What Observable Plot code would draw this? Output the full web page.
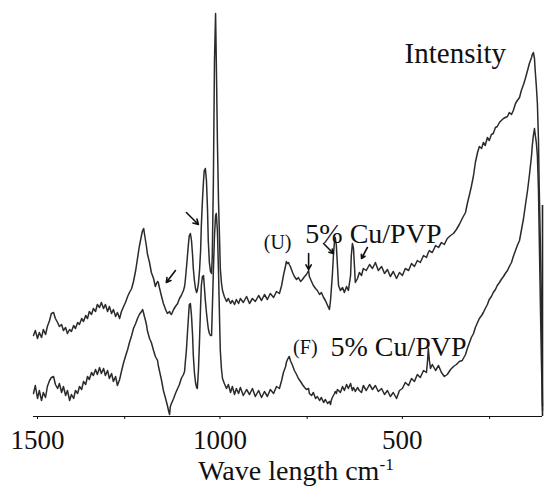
<!DOCTYPE html>
<html>
<head>
<meta charset="utf-8">
<script src="https://cdn.jsdelivr.net/npm/d3@7"></script>
<script src="https://cdn.jsdelivr.net/npm/@observablehq/plot@0.6"></script>
<style>
  body { margin: 0; background: #fff; }
  #chart svg { display: block; font-family: "Liberation Serif", "Times New Roman", serif; }
  #xlabel { font-family: "Liberation Serif", "Times New Roman", serif; font-size: 28px; height: 30px; line-height: 22px; text-align: center; padding-left: 48px; width: 496px; color: #111; overflow: visible; }
  #xlabel span { position: relative; top: -0.55em; font-size: 0.62em; }
</style>
</head>
<body>
<div id="chart"></div>
<div id="xlabel">Wave length cm<span>-1</span></div>
<script>
// Wavenumber grid (cm-1), shared by both spectra
const wave = [
  1500,1495,1489,1484,1478,1473,1467,1462,1456,1451,
  1445,1440,1434,1429,1423,1418,1412,1407,1401,1396,
  1390,1385,1379,1374,1368,1363,1357,1352,1347,1341,
  1336,1330,1325,1319,1314,1308,1303,1297,1292,1286,
  1281,1275,1270,1264,1259,1253,1248,1242,1237,1231,
  1226,1220,1215,1210,1204,1201,1198,1196,1193,1190,
  1188,1182,1177,1171,1166,1163,1160,1158,1155,1149,
  1144,1138,1133,1130,1127,1125,1122,1116,1111,1105,
  1100,1095,1089,1086,1084,1081,1078,1075,1073,1070,
  1067,1064,1062,1059,1056,1053,1051,1048,1045,1042,
  1040,1037,1034,1032,1029,1026,1023,1021,1018,1015,
  1012,1010,1007,1004,1001,999,996,993,990,988,
  985,982,977,971,966,960,955,949,944,938,
  933,925,916,908,900,892,883,875,867,859,
  851,842,834,826,820,815,809,807,804,801,
  799,796,790,785,779,774,768,763,757,752,
  746,744,738,733,727,722,716,711,705,700,
  694,689,686,684,681,678,675,673,670,667,
  664,659,653,648,642,637,631,629,626,623,
  620,618,612,607,601,596,588,579,571,563,
  555,546,538,530,522,514,505,497,489,481,
  472,464,456,448,440,431,423,420,418,415,
  412,407,398,390,382,374,366,357,349,341,
  333,325,316,311,305,300,294,289,283,278,
  272,267,262,256,251,245,240,234,229,223,
  218,212,207,201,196,190,185,179,174,168,
  163,157,152,146,141,135,133,130,127,125,
  122,119,116,114,111,108,105
];
// (U) 5% Cu/PVP – upper spectrum intensity (arb. units)
const upper = [
  81,86,78,84,79,87,82,90,96,103,
  104,98,94,90,92,86,89,83,87,85,
  91,88,94,92,98,95,101,98,105,102,
  108,105,112,109,114,108,112,105,110,103,
  107,100,104,98,105,110,114,120,124,128,
  135,146,158,170,181,186,188,183,176,169,
  163,154,144,138,130,133,135,134,129,120,
  113,107,103,104,105,103,102,107,110,113,
  118,121,126,130,136,148,161,174,181,183,
  176,161,148,136,128,124,126,133,146,166,
  191,216,236,246,248,236,206,176,154,145,
  143,161,236,356,403,356,276,216,176,148,
  134,126,120,115,118,113,116,112,117,113,
  118,114,120,113,118,115,121,116,122,117,
  123,119,125,123,131,141,151,155,153,154,
  152,150,144,140,137,139,135,137,140,142,
  146,140,135,131,128,126,122,124,119,116,
  111,107,116,126,141,161,176,179,171,151,
  131,126,129,124,130,126,141,161,173,168,
  148,134,138,144,141,148,146,152,148,154,
  146,150,143,147,140,145,138,144,141,148,
  146,153,150,156,154,161,159,162,164,166,
  165,164,171,169,174,172,178,181,183,187,
  192,198,204,213,222,230,241,254,264,270,
  268,274,271,279,276,282,283,289,290,294,
  296,298,299,300,304,302,306,313,316,319,
  326,332,338,346,353,359,362,364,358,346,
  331,313,276,229,176,116,11
];
// (F) 5% Cu/PVP – lower spectrum intensity (arb. units)
const lower = [
  23,31,18,26,16,24,19,30,36,39,
  40,32,28,33,24,30,21,26,16,22,
  18,26,23,30,27,35,32,40,37,44,
  41,47,42,49,43,48,41,46,38,43,
  35,40,31,37,45,54,60,67,74,81,
  88,93,98,102,105,107,103,100,96,91,
  86,78,74,66,60,58,56,51,46,36,
  26,18,11,6,2,10,13,18,23,28,
  32,38,42,45,54,66,84,101,112,113,
  101,81,61,44,34,29,28,46,76,111,
  131,140,141,131,116,104,94,88,83,81,
  81,106,146,181,201,203,186,146,96,66,
  48,38,33,28,32,24,30,22,28,23,
  29,21,27,22,28,20,26,19,25,20,
  27,23,30,28,36,44,50,54,57,59,
  60,56,51,46,42,38,35,32,29,27,
  28,23,21,24,18,20,16,19,14,17,
  13,15,12,16,19,21,23,25,23,27,
  26,24,30,26,32,28,33,30,26,29,
  27,25,29,26,24,31,26,32,27,31,
  25,28,22,26,20,24,18,26,28,34,
  31,38,35,42,39,46,44,56,68,56,
  48,52,46,51,44,40,42,47,50,52,
  55,56,62,68,74,79,83,89,94,98,
  101,104,108,112,117,120,124,127,131,134,
  137,140,143,146,150,154,160,166,171,176,
  186,198,211,226,241,261,271,281,288,282,
  274,261,226,181,116,56,6
];
const majorTicks = [1500, 1000, 500];
const minorTicks = [1250, 750, 250];

// annotations (wavenumber, intensity)
const labels = [
  {text: "Intensity", w: 344, v: 363, size: 29, anchor: "middle"},
  {text: "(U)", w: 831, v: 174, size: 20, anchor: "middle"},
  {text: "5% Cu/PVP", w: 755, v: 182, size: 28, anchor: "start"},
  {text: "(F)", w: 755, v: 69, size: 20, anchor: "middle"},
  {text: "5% Cu/PVP", w: 686, v: 69, size: 28, anchor: "start"}
];
const arrows = [
  {w1: 1081, v1: 204, w2: 1048, v2: 192},
  {w1: 1111, v1: 146, w2: 1136, v2: 134},
  {w1: 746, v1: 163, w2: 746, v2: 147},
  {w1: 705, v1: 173, w2: 678, v2: 163},
  {w1: 585, v1: 169, w2: 601, v2: 158}
];

const specU = wave.map((w, i) => ({w, v: upper[i]}));
const specF = wave.map((w, i) => ({w, v: lower[i]}));
const serif = "Liberation Serif, Times New Roman, serif";

const textMarks = labels.map(d => Plot.text([d], {
  x: "w", y: "v", text: "text", fontSize: d.size, textAnchor: d.anchor,
  lineAnchor: "middle", fontFamily: serif, fill: "#111"
}));

const chart = Plot.plot({
  width: 544,
  height: 460,
  marginLeft: 33,
  marginRight: 2,
  marginTop: 0,
  marginBottom: 44,
  x: {domain: [1500, 105]},
  y: {domain: [0, 416], axis: null},
  marks: [
    Plot.line(specF, {x: "w", y: "v", stroke: "#2b2b2b", strokeWidth: 1.5}),
    Plot.line(specU, {x: "w", y: "v", stroke: "#2b2b2b", strokeWidth: 1.5}),
    Plot.ruleY([0], {stroke: "#111", strokeWidth: 1.2}),
    Plot.ruleX([105], {y1: 0, y2: 211, stroke: "#222", strokeWidth: 1.6}),
    Plot.axisX({ticks: majorTicks, tickSize: 3, tickPadding: 10.5, tickFormat: d => String(d),
      fontSize: 27, fontFamily: serif, fill: "#111", stroke: "#111", dx: 4}),
    Plot.axisX({ticks: minorTicks, tickSize: 3, tickFormat: () => "", stroke: "#111"}),
    Plot.arrow(arrows, {x1: "w1", y1: "v1", x2: "w2", y2: "v2", stroke: "#111", strokeWidth: 1.6, headLength: 6}),
    ...textMarks
  ]
});
document.getElementById("chart").appendChild(chart);
</script>
</body>
</html>
